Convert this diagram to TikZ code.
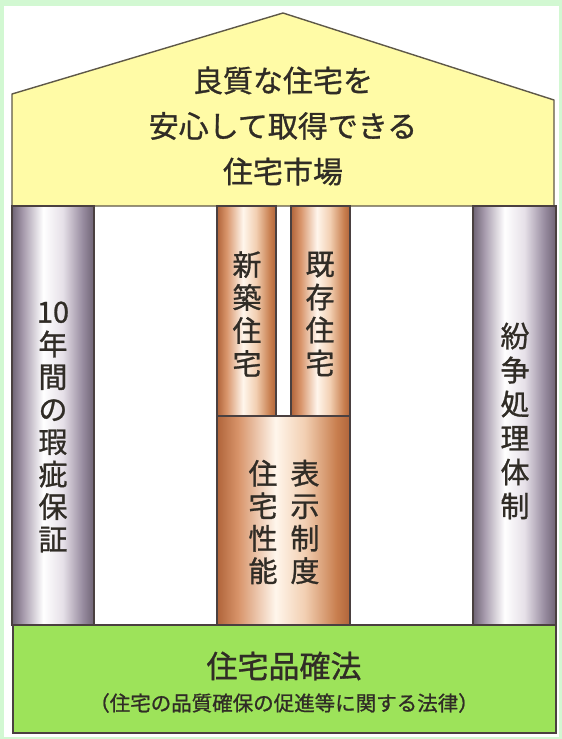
\documentclass[tikz,border=0pt]{standalone}
\usepackage{fontspec}
\newfontfamily\jpfont[FakeBold=1]{Noto Sans CJK JP}
\definecolor{frameGreen}{HTML}{D2F8D2}
\definecolor{roofYellow}{HTML}{FFFBA6}
\definecolor{roofLine}{HTML}{5E5848}
\definecolor{baseGreen}{HTML}{9DE35A}
\definecolor{edgeDark}{HTML}{4A4040}
\definecolor{txt}{HTML}{302C26}
\definecolor{gE}{HTML}{6F6475}
\definecolor{gA}{HTML}{A89CAE}
\definecolor{gB}{HTML}{E6E0E8}
\definecolor{gC}{HTML}{988CA0}
\definecolor{cE}{HTML}{B0643A}
\definecolor{cA}{HTML}{D8946A}
\definecolor{cB}{HTML}{F2CFB2}
\definecolor{cC}{HTML}{C87E4E}
\definecolor{cW}{HTML}{FFF6EC}
\pgfdeclarehorizontalshading{grayshade}{100bp}{color(0bp)=(gE); color(25bp)=(gE); color(32bp)=(gA); color(44bp)=(white); color(56bp)=(gB); color(68bp)=(gC); color(75bp)=(gE); color(100bp)=(gE)}
\pgfdeclarehorizontalshading{coppershade}{100bp}{color(0bp)=(cE); color(25bp)=(cE); color(33bp)=(cA); color(47bp)=(cW); color(58bp)=(cB); color(70bp)=(cC); color(75bp)=(cE); color(100bp)=(cE)}
\tikzset{
  roofshape/.style={fill=roofYellow, draw=roofLine, line width=1.4pt, line join=round},
  graypillar/.style={shading=grayshade, draw=edgeDark, line width=1.1pt},
  copperpillar/.style={shading=coppershade, draw=edgeDark, line width=1.1pt},
  baseshape/.style={fill=baseGreen, draw=edgeDark, line width=1.3pt},
  bigtext/.style={text=txt, inner sep=0pt, align=center, font=\jpfont\fontsize{30}{45.5}\selectfont},
  vtext/.style={text=txt, inner sep=0pt, align=center, font=\jpfont\fontsize{29}{#1}\selectfont},
  vtext/.default=32.5
}
\begin{document}
\begin{tikzpicture}[x=1pt,y=-1pt]
\useasboundingbox (0,0) rectangle (562,739);
\fill[frameGreen] (0,0) rectangle (562,739);
\fill[white] (4,6) rectangle (559,737);
% roof
\draw[roofshape] (12,206) -- (12,94) -- (283,13) -- (554,100) -- (554,206) -- cycle;
% pillars
\draw[graypillar] (12,206) rectangle (94,625);
\draw[graypillar] (473,206) rectangle (556,625);
\draw[copperpillar] (217,206) rectangle (276,416);
\draw[copperpillar] (291,206) rectangle (350,416);
\draw[copperpillar] (217,416) rectangle (350,625);
% base
\draw[baseshape] (13,625) rectangle (556,733);
% texts
\node[bigtext] (roofText) at (283,126) {良質な住宅を\\安心して取得できる\\住宅市場};
\node[vtext] (leftText) at (53,427) {10\\年\\間\\の\\瑕\\疵\\保\\証};
\node[vtext=33] (newText) at (247,314) {新\\築\\住\\宅};
\node[vtext=33] (oldText) at (320,314) {既\\存\\住\\宅};
\node[vtext] (perfText) at (263,522) {住\\宅\\性\\能};
\node[vtext] (dispText) at (305,522) {表\\示\\制\\度};
\node[vtext=34] (rightText) at (515,421) {紛\\争\\処\\理\\体\\制};
\node[text=txt, inner sep=0pt, font=\jpfont\fontsize{31}{36}\selectfont] (lawText) at (284,666) {住宅品確法};
\node[text=txt, inner sep=0pt, font=\jpfont\fontsize{20.5}{24}\selectfont] (lawSub) at (284,703) {（住宅の品質確保の促進等に関する法律）};
\end{tikzpicture}
\end{document}
